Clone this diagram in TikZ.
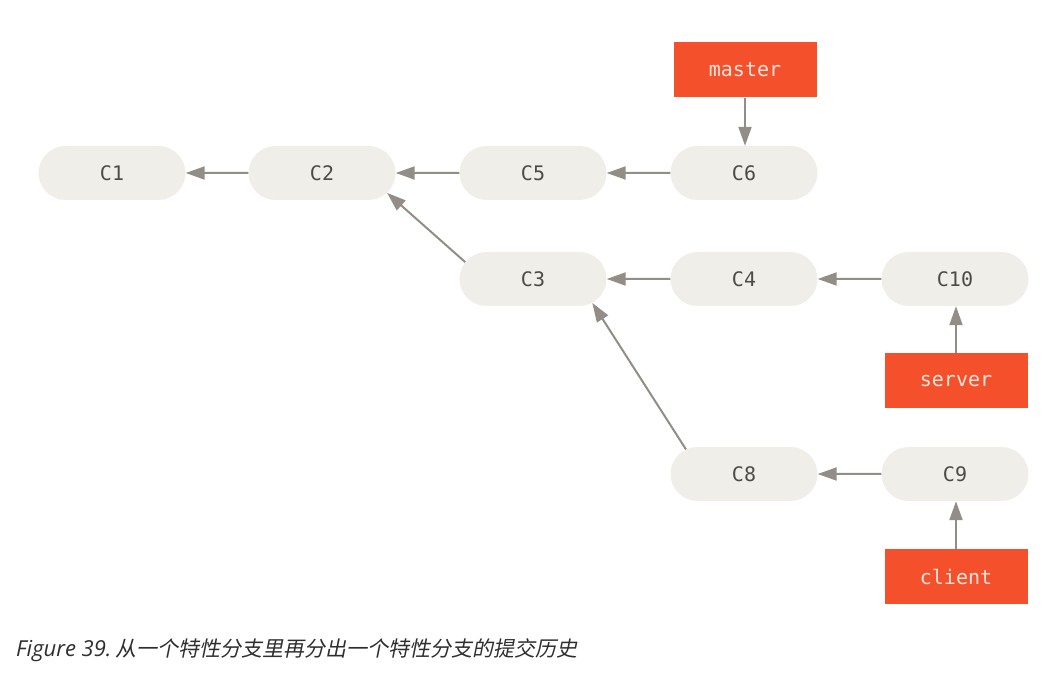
\documentclass[tikz,border=0pt]{standalone}
\usepackage{fontspec}
\setmonofont{DejaVu Sans Mono}
\setmainfont{Open Sans}
\newfontfamily\cjk[FakeSlant=0.2]{Noto Sans CJK SC}
\usetikzlibrary{shapes.misc,arrows.meta}
\definecolor{commitfill}{HTML}{EFEEE8}
\definecolor{committext}{HTML}{4E4A45}
\definecolor{refred}{HTML}{F4502B}
\definecolor{reftext}{HTML}{F5E6DD}
\definecolor{arrowgray}{HTML}{928D87}
\definecolor{captext}{HTML}{2E2E2E}
\begin{document}
\begin{tikzpicture}[x=1pt,y=1pt,
  commit/.style={rounded rectangle, fill=commitfill, minimum width=147pt, minimum height=54pt, inner sep=0pt, text=committext, font=\ttfamily\fontsize{20}{24}\selectfont},
  reflabel/.style={rectangle, fill=refred, minimum width=143pt, minimum height=55pt, inner sep=0pt, text=reftext, font=\ttfamily\fontsize{20}{24}\selectfont},
  parent/.style={draw=arrowgray, line width=2pt, -{Triangle[length=19pt,width=13pt]}}]
\useasboundingbox (0,0) rectangle (1052,672);
\node[commit] (C1) at (112,499) {C1};
\node[commit] (C2) at (322,499) {C2};
\node[commit] (C5) at (533,499) {C5};
\node[commit] (C6) at (744,499) {C6};
\node[commit] (C3) at (533,393) {C3};
\node[commit] (C4) at (744,393) {C4};
\node[commit] (C10) at (955,393) {C10};
\node[commit] (C8) at (744,198) {C8};
\node[commit] (C9) at (955,198) {C9};
\node[reflabel] (master) at (745,602) {master};
\node[reflabel] (server) at (956,291) {server};
\node[reflabel] (client) at (956,95) {client};
\draw[parent] (C2) -- (C1);
\draw[parent] (C5) -- (C2);
\draw[parent] (C6) -- (C5);
\draw[parent] (C4) -- (C3);
\draw[parent] (C10) -- (C4);
\draw[parent] (C9) -- (C8);
\draw[parent] (C3.166) -- (C2.343);
\draw[parent] (C8.157) -- (C3.338);
\draw[parent] (master.south) -- (master.south |- C6.north);
\draw[parent] (server.north) -- (server.north |- C10.south);
\draw[parent] (client.north) -- (client.north |- C9.south);
\node[anchor=base west, inner sep=0pt, text=captext] (cap) at (16,16) {\fontsize{22}{26}\selectfont\itshape Figure 39.\hspace{0.2em}\fontsize{21}{24}\selectfont\cjk 从一个特性分支里再分出一个特性分支的提交历史};
\end{tikzpicture}
\end{document}
